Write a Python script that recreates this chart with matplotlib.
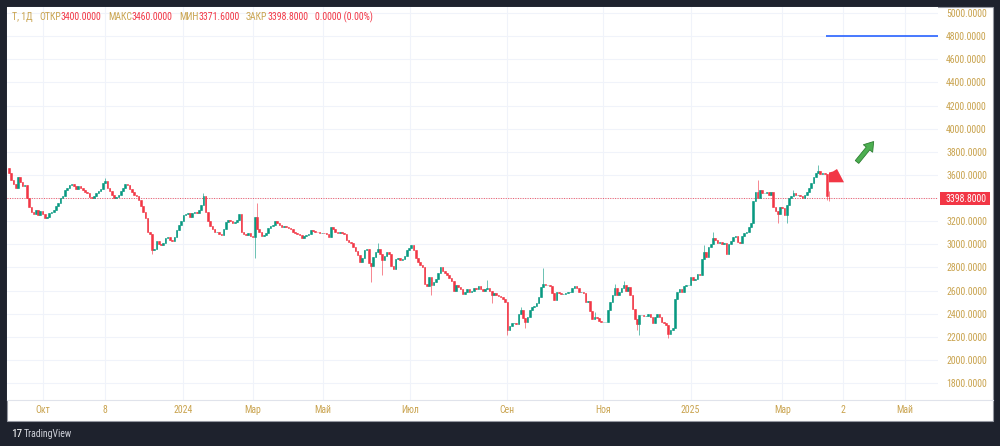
import matplotlib
matplotlib.use('Agg')
import matplotlib.pyplot as plt
from matplotlib.patches import Rectangle, Polygon, FancyArrow
from matplotlib.font_manager import fontManager, FontProperties
from matplotlib.textpath import TextPath
import numpy as np

# ---------------- data (daily closes) ----------------
closes = [
    3620, 3560, 3520, 3490, 3580, 3540, 3500, 3510, 3400, 3320,
    3280, 3260, 3300, 3250, 3290, 3260, 3230, 3240, 3270, 3280,
    3300, 3330, 3360, 3400, 3420, 3470, 3490, 3510, 3520, 3500,
    3480, 3500, 3490, 3470, 3450, 3440, 3410, 3400, 3420, 3440,
    3460, 3480, 3530, 3550, 3490, 3460, 3430, 3400, 3410, 3430,
    3460, 3490, 3520, 3510, 3480, 3450, 3430, 3420, 3380, 3330,
    3280, 3230, 3110, 3090,
    2950, 2960, 3030, 3000, 2990, 3010, 3050, 3060, 3040, 3030,
    3060, 3120, 3170, 3200, 3250, 3260, 3270, 3240, 3270, 3280,
    3270, 3300, 3340, 3420, 3280, 3200, 3160, 3130, 3110, 3110,
    3090, 3080, 3130, 3190, 3210, 3200, 3180, 3190, 3210, 3260,
    3110, 3090, 3080, 3100, 3070, 3060, 3240, 3130, 3110, 3070,
    3080, 3100, 3140, 3160, 3170, 3200, 3180, 3170, 3150, 3160,
    3150, 3140, 3130, 3110, 3100, 3090, 3080, 3050, 3070, 3080,
    3090, 3120, 3115, 3110, 3105, 3100, 3100, 3095, 3090, 3060,
    3150, 3130, 3110, 3100, 3105, 3100, 3090, 3040, 3020, 3010,
    2980, 2940, 2910, 2850, 2880, 2950, 2960, 2840, 2810, 2890,
    2930, 2960, 2920, 2860, 2900, 2930, 2920, 2810, 2790, 2870,
    2880, 2860, 2870, 2900, 2950, 2970, 2990, 2950, 2880, 2850,
    2820, 2800, 2660, 2640, 2720, 2650, 2670, 2700, 2750, 2800,
    2770, 2750, 2730, 2710, 2680, 2600, 2650, 2630, 2610, 2570,
    2590, 2610, 2590, 2600, 2620, 2610, 2640, 2610, 2600, 2610,
    2620, 2600, 2560, 2580, 2560, 2550, 2540, 2530, 2500, 2260,
    2290, 2320, 2320, 2310, 2400, 2430, 2360, 2330, 2370, 2430,
    2460, 2470, 2490, 2540, 2630, 2660, 2650, 2650, 2640, 2580,
    2520,
    2590, 2580, 2570, 2570, 2580, 2590, 2590, 2620, 2640, 2620,
    2590, 2590, 2580, 2500, 2510, 2420, 2350, 2370, 2360, 2340,
    2330, 2330, 2330, 2430, 2500, 2560, 2620, 2560, 2590, 2620,
    2650, 2600, 2630, 2560, 2440, 2350, 2310, 2390, 2390, 2380,
    2380, 2400, 2370, 2320, 2370, 2400, 2370, 2330, 2320, 2300,
    2220, 2260, 2280, 2530, 2590, 2610, 2590, 2640, 2650, 2650,
    2720, 2690, 2700, 2740, 2730, 2870, 2930, 2890, 2980, 3000,
    3050, 3040, 3010, 3020, 3000, 3010, 2920, 3000, 3030, 3060,
    3070, 3020, 3010, 3070, 3100, 3110, 3150, 3180, 3370, 3450,
    3400, 3470, 3440, 3440, 3450, 3430, 3450, 3320, 3290, 3260,
    3320, 3310, 3250, 3340, 3400, 3420, 3440, 3430, 3430, 3420,
    3400, 3430, 3450, 3490, 3530, 3580, 3620, 3630, 3610, 3620,
    3610, 3420, 3398.8,
]
first_open = 3660
# last bar (header values)
last_open, last_high, last_low, last_close = 3400.0, 3460.0, 3371.6, 3398.8
change, change_pct = 0.0, 0.0

# visible long wicks: bar index -> extreme price
highs_extra = {43: 3575, 87: 3445, 111: 3354, 165: 3008, 214: 2691, 229: 2460,
               239: 2792, 262: 2418, 271: 2660, 275: 2678, 311: 2990, 315: 3110,
               335: 3556, 351: 3470, 362: 3686, 367: 3460}
lows_extra = {64: 2920, 110: 2878, 162: 2676, 167: 2734, 189: 2561, 216: 2489,
              223: 2215, 231: 2273, 281: 2260, 282: 2217, 295: 2188, 344: 3181,
              348: 3181, 366: 3380, 367: 3371.6}

price_ticks = [1800, 2000, 2200, 2400, 2600, 2800, 3000, 3200, 3400, 3600,
               3800, 4000, 4200, 4400, 4600, 4800, 5000]
time_tick_pos = [15, 43, 78, 109, 140.5, 179.5, 223, 266, 305, 346, 373, 401]
time_tick_labels = ['Окт', '8', '2024', 'Мар', 'Май', 'Июл', 'Сен', 'Ноя',
                    '2025', 'Мар', '2', 'Май']
ray_level = 4800
ray_start = 365.5
ticker = 'T, 1Д'

# ---------------- styling ----------------
BG = '#1e222d'
UP = '#089981'
DN = '#f23645'
GOLD = '#c9a34e'
GRID = '#f0f3fa'


def pick_font():
    wanted = ['LiberationSansNarrow-Regular', 'RobotoCondensed-Regular',
              'DejaVuSansCondensed.ttf', 'LiberationSans-Regular']
    files = [f.fname for f in fontManager.ttflist]
    for w in wanted:
        for fn in files:
            if w in fn.replace('\\', '/').split('/')[-1]:
                return fn
    return None


fontfile = pick_font()
BASE = FontProperties(fname=fontfile) if fontfile else FontProperties(family='DejaVu Sans')


def text_px(s, prop):
    tp = TextPath((0, 0), s, prop=prop, size=prop.get_size())
    return tp.get_extents().width * 100 / 72


def fprops(target_px, sample='5000.0000'):
    p = BASE.copy()
    p.set_size(10)
    size = 10 * target_px / text_px(sample, p)
    p.set_size(size)
    return p


FP = fprops(40)

W, H = 1000, 446
fig = plt.figure(figsize=(10, 4.46), dpi=100, facecolor=BG)


def fx(px):
    return px / W


def fy(py):
    return 1 - py / H


# background panel axes
bgax = fig.add_axes([0, 0, 1, 1], zorder=-5)
bgax.set_xlim(0, W)
bgax.set_ylim(H, 0)
bgax.axis('off')
bgax.add_patch(Rectangle((7, 7), 986, 414, facecolor='white',
                         edgecolor='#9598a1', lw=0.8))

ax = fig.add_axes([fx(7), fy(400), fx(938) - fx(7), fy(7) - fy(400)], zorder=1)
ax.set_facecolor('white')

n = len(closes)
idx = np.arange(n)
opens = [first_open] + closes[:-1]
opens[-1] = last_open
o = np.array(opens, dtype=float)
c = np.array(closes, dtype=float)
hi = np.maximum(o, c)
lo = np.minimum(o, c)
for k, v in highs_extra.items():
    hi[k] = max(hi[k], v)
for k, v in lows_extra.items():
    lo[k] = min(lo[k], v)
cols = np.where(c >= o, UP, DN)

ax.vlines(idx, lo, hi, colors=cols, linewidth=0.7, alpha=0.6, zorder=3)
ax.bar(idx, np.abs(c - o), bottom=np.minimum(o, c), width=0.72, color=cols,
       edgecolor=cols, linewidth=0.4, zorder=4)

# grid
for p in price_ticks:
    ax.axhline(p, color=GRID, lw=0.8, zorder=1)
for t in time_tick_pos:
    ax.axvline(t, color=GRID, lw=0.8, zorder=1)

# last price dotted line
ax.axhline(last_close, color=DN, lw=0.7, ls=(0, (1, 1.5)), alpha=0.85, zorder=2)
# blue horizontal ray
ax.hlines(ray_level, ray_start, 416, color='#2962ff', lw=1.2, zorder=5)

ax.set_xlim(-0.9, 415.7)
ax.set_ylim(1653, 5052)
for s in ax.spines.values():
    s.set_visible(False)

ax.yaxis.tick_right()
ax.set_yticks(price_ticks)
ax.set_yticklabels(['' if p == 3400 else f'{p:.4f}' for p in price_ticks])
for lab in ax.get_yticklabels():
    lab.set_fontproperties(FP)
    lab.set_color(GOLD)
ax.tick_params(axis='y', length=0, pad=5.8)
ax.set_xticks(time_tick_pos)
ax.set_xticklabels(time_tick_labels)
for lab in ax.get_xticklabels():
    lab.set_fontproperties(FP)
    lab.set_color(GOLD)
ax.tick_params(axis='x', length=0, pad=3.5)

# overlay in pixel coords
ov = fig.add_axes([0, 0, 1, 1], zorder=10)
ov.set_xlim(0, W)
ov.set_ylim(H, 0)
ov.axis('off')
ov.patch.set_alpha(0)

# time-axis separator
ov.plot([7, 993], [400, 400], color='#e0e3eb', lw=0.8)

# last price label
ov.add_patch(Rectangle((940, 192), 50, 13, facecolor=DN, edgecolor='none'))
ov.text(946, 198.7, f'{last_close:.4f}', color='white', fontproperties=FP,
        va='center', ha='left')

# green arrow
ov.add_patch(FancyArrow(857, 162, 11, -13.5, width=4.5, head_width=12,
                        head_length=9, length_includes_head=False,
                        facecolor='#4caf50', edgecolor='#2e7d32', lw=0.6))
# red arrow marker
ov.add_patch(Polygon([(829, 172.5), (833, 171.5), (837, 169), (844, 182.3),
                      (829, 182.3)], closed=True, facecolor=DN, edgecolor='none'))

# header: sequential layout (label + value adjacent, gaps between groups)
hy = 17
groups = [[(ticker, GOLD)],
          [('ОТКР', GOLD), (f'{last_open:.4f}', DN)],
          [('МАКС', GOLD), (f'{last_high:.4f}', DN)],
          [('МИН', GOLD), (f'{last_low:.4f}', DN)],
          [('ЗАКР', GOLD), (f'{last_close:.4f}', DN)],
          [(f'{change:.4f} ({change_pct:.2f}%)', DN)]]
x = 12
for g in groups:
    for s, col in g:
        ov.text(x, hy, s, color=col, fontproperties=FP, va='center', ha='left')
        x += text_px(s, FP) + 1
    x += 6

# footer logo
FPB = FP.copy()
FPB.set_weight('bold')
FPB.set_size(FP.get_size() * 1.15)
ov.text(11, 434, '17', color='white', fontproperties=FPB, va='center', ha='left')
ov.text(24, 434, 'TradingView', color='#d1d4dc', fontproperties=FP,
        va='center', ha='left')

fig.savefig('out.png', dpi=100, facecolor=BG)
